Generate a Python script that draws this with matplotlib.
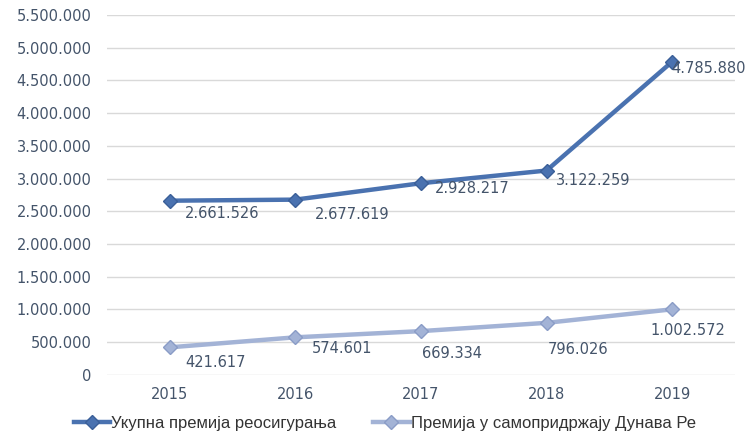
import matplotlib.pyplot as plt
from matplotlib.ticker import FuncFormatter

plt.rcParams['font.family'] = ['DejaVu Sans']

years = ['2015', '2016', '2017', '2018', '2019']
total_premium = [2661526, 2677619, 2928217, 3122259, 4785880]
retained_premium = [421617, 574601, 669334, 796026, 1002572]
series_names = ['Укупна премија реосигурања', 'Премија у самопридржају Дунава Ре']

# label offsets in points (dx to left edge, dy to centre)
total_offsets = [(11, -9), (14, -11), (10, -4), (7, -7), (-1, -5)]
retained_offsets = [(11, -11), (12, -8), (1, -16), (1, -19), (-16, -15)]


def fmt_num(v):
    # thousands separated by dots
    return f"{int(v):,}".replace(',', '.')


fig = plt.figure(figsize=(7.47, 4.37), dpi=100)
ax = fig.add_axes([0.143, 0.142, 0.841, 0.824])

x = list(range(len(years)))
dark = '#4a72b0'
light = '#a3b3d6'
text_col = '#44546a'

ax.plot(x, total_premium, color=dark, linewidth=3.2, marker='D', markersize=7,
        markerfacecolor=dark, markeredgecolor='#3a5f98', label=series_names[0], zorder=3)
ax.plot(x, retained_premium, color=light, linewidth=3.2, marker='D', markersize=7,
        markerfacecolor=light, markeredgecolor='#8a9cc6', label=series_names[1], zorder=3)

# data labels
for i, v in enumerate(total_premium):
    ax.annotate(fmt_num(v), (x[i], v), xytext=total_offsets[i], textcoords='offset points',
                ha='left', va='center', fontsize=10.5, color=text_col)
for i, v in enumerate(retained_premium):
    ax.annotate(fmt_num(v), (x[i], v), xytext=retained_offsets[i], textcoords='offset points',
                ha='left', va='center', fontsize=10.5, color=text_col)

ax.set_xlim(-0.5, len(years) - 0.5)
ax.set_ylim(0, 5500000)
ax.set_yticks(range(0, 5500001, 500000))
ax.yaxis.set_major_formatter(FuncFormatter(lambda v, p: fmt_num(v)))
ax.set_xticks(x)
ax.set_xticklabels(years)
ax.tick_params(axis='both', length=0, labelsize=10.5, labelcolor=text_col)
ax.tick_params(axis='y', pad=11)
ax.tick_params(axis='x', pad=9)

ax.grid(axis='y', color='#d9d9d9', linewidth=1)
ax.set_axisbelow(True)
for s in ax.spines.values():
    s.set_visible(False)

leg = fig.legend(loc='center', bbox_to_anchor=(0.515, 0.032), ncol=2, frameon=False,
                 handlelength=2.2, columnspacing=2.2, handletextpad=0.05,
                 prop={'family': 'Liberation Sans', 'size': 12})
for t in leg.get_texts():
    t.set_color('#333333')

fig.savefig('out.png', dpi=100)
